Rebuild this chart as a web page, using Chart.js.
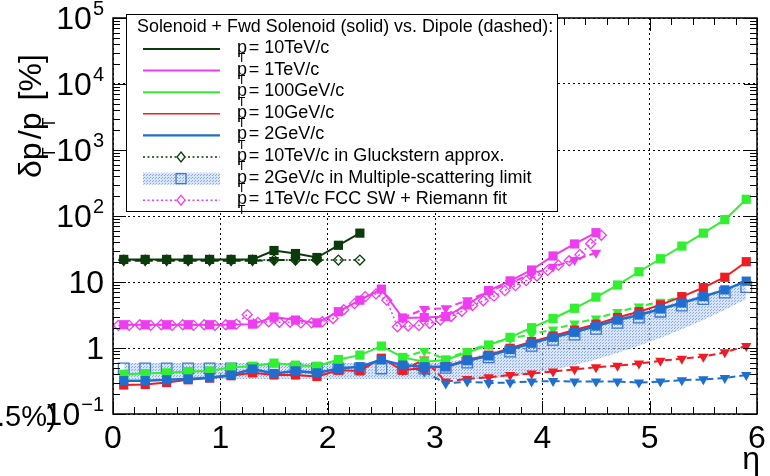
<!DOCTYPE html>
<html>
<head>
<title>pT resolution vs eta</title>
<script src="https://cdn.jsdelivr.net/npm/chart.js@4.4.1/dist/chart.umd.min.js"></script>
<style>
  body { margin: 0; background: #fff; }
  canvas { display: block; }
</style>
</head>
<body>
<canvas id="myCanvas" width="770" height="476"></canvas>
<script>
// eta bins (bin centres)
var eta = [0.1, 0.3, 0.5, 0.7, 0.9, 1.1, 1.3, 1.5, 1.7, 1.9, 2.1, 2.3, 2.5, 2.7, 2.9,
           3.1, 3.3, 3.5, 3.7, 3.9, 4.1, 4.3, 4.5, 4.7, 4.9, 5.1, 5.3, 5.5, 5.7, 5.9];

// solenoid + fwd solenoid (solid)
var pt10TeV  = [22, 22, 22, 22, 22, 22, 22, 30, 27, 23.5, 36, 55,
                null, null, null, null, null, null, null, null, null, null, null, null, null, null, null, null, null, null];
var pt1TeV   = [2.25, 2.25, 2.25, 2.25, 2.25, 2.25, 2.3, 2.95, 2.65, 2.4, 3.55, 5.3, 7.8, 2.85, 2.9,
                3.0, 4.5, 7.4, 10.4, 15.2, 24.8, 37.7, 55.8, null, null, null, null, null, null, null];
var pt100GeV = [0.40, 0.41, 0.42, 0.44, 0.45, 0.51, 0.53, 0.59, 0.55, 0.53, 0.67, 0.78, 1.07, 0.72, 0.62,
                0.66, 0.85, 1.11, 1.45, 2.03, 2.8, 4.0, 5.9, 9.0, 14.3, 22.5, 35, 55, 88, 179];
var pt10GeV  = [0.275, 0.28, 0.30, 0.33, 0.35, 0.38, 0.42, 0.39, 0.39, 0.37, 0.46, 0.45, 0.70, 0.46, 0.50,
                0.52, 0.66, 0.78, 0.99, 1.25, 1.52, 1.87, 2.3, 2.9, 3.55, 4.5, 6.0, 8.2, 11.8, 20.3];
var pt2GeV   = [0.32, 0.32, 0.33, 0.34, 0.355, 0.39, 0.48, 0.41, 0.45, 0.42, 0.49, 0.52, 0.66, 0.55, 0.52,
                0.52, 0.64, 0.76, 0.95, 1.18, 1.45, 1.73, 2.15, 2.65, 3.16, 3.9, 4.8, 6.0, 7.6, 10.3];

// dipole (dashed)
var pt10TeVDip  = [21, 21, 21, 21, 21, 21, 21, 21.5, 21.5, 21.5,
                   null, null, null, null, null, null, null, null, null, null, null, null, null, null, null, null, null, null, null, null];
var pt1TeVDip   = [null, null, null, null, null, null, null, null, null, null, null, null, null, 2.85, 3.9,
                   4.0, 5.3, 7.1, 9.7, 13.2, 17, 21.5, 27.8, null, null, null, null, null, null, null];
var pt100GeVDip = [null, null, null, null, null, null, null, null, null, null, null, null, null, 0.72, 0.9,
                   0.68, 0.9, 1.15, 1.38, 1.62, 1.9, 2.35, 2.8, 3.5, 4.25, 5.0, 6.0, null, null, null];
var pt10GeVDip  = [null, null, null, null, null, null, null, null, null, null, null, null, null, 0.46, 0.67,
                   0.31, 0.34, 0.36, 0.39, 0.41, 0.44, 0.475, 0.51, 0.54, 0.58, 0.64, 0.69, 0.74, 0.86, 1.07];
var pt2GeVDip   = [null, null, null, null, null, null, null, null, null, null, null, null, null, 0.55, 0.44,
                   0.29, 0.31, 0.295, 0.30, 0.31, 0.315, 0.31, 0.31, 0.31, 0.30, 0.31, 0.325, 0.335, 0.35, 0.39];

// 10 TeV/c in Gluckstern approx.
var gluck10TeV = [21.5, 21.5, 21.5, 21.5, 21.5, 21.5, 21.5, 21.5, 21.5, 21.5, 21.5, 21.5,
                  null, null, null, null, null, null, null, null, null, null, null, null, null, null, null, null, null, null];

// 2 GeV/c multiple-scattering limit (band + centre)
var msCentre = [0.49, 0.49, 0.49, 0.49, 0.49, 0.49, 0.49, 0.49, 0.49, 0.49, 0.49, 0.49, 0.49, 0.49, 0.49,
                0.50, 0.60, 0.72, 0.88, 1.08, 1.33, 1.6, 1.95, 2.4, 2.9, 3.55, 4.4, 5.5, 6.9, 8.4];
var msUpper  = [0.59, 0.59, 0.59, 0.59, 0.59, 0.59, 0.59, 0.59, 0.59, 0.59, 0.59, 0.59, 0.59, 0.59, 0.59,
                0.60, 0.70, 0.84, 1.02, 1.25, 1.55, 1.88, 2.3, 2.8, 3.4, 4.2, 5.2, 6.4, 8.0, 9.8];
var msLower  = [0.34, 0.34, 0.34, 0.34, 0.34, 0.34, 0.34, 0.34, 0.34, 0.34, 0.34, 0.34, 0.34, 0.34, 0.34,
                0.34, 0.34, 0.34, 0.36, 0.41, 0.47, 0.55, 0.67, 0.84, 1.08, 1.42, 1.92, 2.65, 3.8, 5.5];

// 1 TeV/c FCC SW + Riemann fit (finer eta steps)
var etaFcc = [0.05, 0.15, 0.25, 0.35, 0.45, 0.55, 0.65, 0.75, 0.85, 0.95, 1.05, 1.15, 1.25, 1.35, 1.45,
              1.55, 1.65, 1.75, 1.85, 1.95, 2.05, 2.15, 2.25, 2.35, 2.45, 2.55, 2.65, 2.75, 2.85, 2.95,
              3.05, 3.15, 3.25, 3.35, 3.45, 3.55, 3.65, 3.75, 3.85, 3.95, 4.05, 4.15, 4.25, 4.35, 4.45, 4.55];
var fcc1TeV = [2.2, 2.2, 2.25, 2.2, 2.25, 2.2, 2.25, 2.2, 2.25, 2.2, 2.25, 2.3, 3.2, 2.45, 2.5,
               2.45, 2.45, 2.4, 2.4, 2.5, 2.8, 3.8, 4.7, 6.0, 6.6, 5.3, 2.1, 2.15, 2.2, 2.35,
               2.65, 3.0, 3.6, 4.4, 5.2, 6.1, 7.4, 8.8, 10.5, 12.3, 15, 18, 21, 26, 38, 51];

// axis ticks / labels
var xTicks = [0, 1, 2, 3, 4, 5, 6];
var xTickLabels = ['0', '1', '2', '3', '4', '5', '6'];
var yTicks = [0.1, 1, 10, 100, 1000, 10000, 100000];
var yTickBase = ['10', '1', '10', '10', '10', '10', '10'];
var yTickExp  = ['\u22121', '', '', '2', '3', '4', '5'];
var xTitle = '\u03b7';
var leftNote = '.5%)';

var legendHeader = 'Solenoid + Fwd Solenoid (solid) vs. Dipole (dashed):';
var legendTexts = ['= 10TeV/c', '= 1TeV/c', '= 100GeV/c', '= 10GeV/c', '= 2GeV/c',
                   '= 10TeV/c in Gluckstern approx.', '= 2GeV/c in Multiple-scattering limit',
                   '= 1TeV/c FCC SW + Riemann fit'];

var cDkGreen = '#0b3b0b', cMagenta = '#f03cf0', cGreen = '#30f030', cRed = '#f01c24', cBlue = '#1e6fd0';
var FONT = '"Liberation Sans", Arial, sans-serif';

function pts(xs, ys) {
  return xs.map(function(x, i) { return {x: x, y: ys[i]}; });
}

var ctx0 = document.getElementById('myCanvas').getContext('2d');
function bandPattern() {
  var c = document.createElement('canvas');
  c.width = 3; c.height = 3;
  var g = c.getContext('2d');
  g.fillStyle = 'rgba(185,208,240,0.55)';
  g.fillRect(0, 0, 3, 3);
  g.fillStyle = 'rgba(80,135,215,0.6)';
  g.fillRect(0, 0, 1, 1);
  g.fillRect(2, 1, 1, 1);
  return ctx0.createPattern(c, 'repeat');
}
var band = bandPattern();

function solid(data, color, w) {
  return {data: pts(eta, data), borderColor: color, backgroundColor: color, borderWidth: w,
          pointStyle: 'rect', pointRadius: 6.5, pointBorderWidth: 0, spanGaps: false};
}
function dipole(data, color) {
  return {data: pts(eta, data), borderColor: color, backgroundColor: color, borderWidth: 2,
          borderDash: [7, 4], pointStyle: 'triangle', rotation: 180, pointRadius: 6, pointBorderWidth: 0};
}

var datasets = [
  solid(pt2GeV, cBlue, 2.5),
  solid(pt10GeV, cRed, 2),
  solid(pt100GeV, cGreen, 2),
  solid(pt1TeV, cMagenta, 2),
  solid(pt10TeV, cDkGreen, 2),
  dipole(pt2GeVDip, cBlue),
  dipole(pt10GeVDip, cRed),
  dipole(pt100GeVDip, cGreen),
  dipole(pt1TeVDip, cMagenta),
  dipole(pt10TeVDip, cDkGreen),
  {data: pts(etaFcc, fcc1TeV), borderColor: cMagenta, backgroundColor: 'rgba(255,255,255,0)', borderWidth: 1.5,
   borderDash: [2, 2.5], pointStyle: 'rectRot', pointRadius: 5, pointBorderWidth: 1.3, pointBorderColor: cMagenta},
  {data: pts(eta, gluck10TeV), borderColor: cDkGreen, backgroundColor: 'rgba(255,255,255,0)', borderWidth: 1.5,
   borderDash: [2, 2.5], pointStyle: 'rectRot', pointRadius: 5, pointBorderWidth: 1.3, pointBorderColor: cDkGreen},
  {data: pts(eta, msCentre), showLine: false, borderColor: '#3a78d8', backgroundColor: 'rgba(255,255,255,0)',
   pointStyle: 'rect', pointRadius: 7.5, pointBorderWidth: 1.3},
  {data: pts(eta, msLower), borderWidth: 0, pointRadius: 0, fill: false},
  {data: pts(eta, msUpper), borderWidth: 0, pointRadius: 0, backgroundColor: band, fill: '-1'}
];

// text runs; a subscript "T" sits under the preceding letter (ROOT style)
function runs(ctx, x, y, parts, big, small, sub) {
  var lastStart = x;
  parts.forEach(function(p) {
    if (p.sub) {
      ctx.font = small + 'px ' + FONT;
      ctx.fillText(p.t, lastStart + big * 0.06, y + sub);
      x += big * 0.1;
    } else {
      ctx.font = big + 'px ' + FONT;
      ctx.fillText(p.t, x, y);
      var w = ctx.measureText(p.t).width;
      lastStart = x + w - ctx.measureText(p.t.slice(-1)).width;
      x += w;
    }
  });
}

var legendStyles = [
  {c: cDkGreen, dash: [], w: 2.2},
  {c: cMagenta, dash: [], w: 2},
  {c: cGreen, dash: [], w: 2},
  {c: cRed, dash: [], w: 1.5},
  {c: cBlue, dash: [], w: 2.2},
  {c: cDkGreen, dash: [2, 2.5], w: 1.5, mark: 'diamond'},
  {c: '#3a78d8', dash: [], w: 0, mark: 'band'},
  {c: cMagenta, dash: [2, 2.5], w: 1.5, mark: 'diamond'}
];

var rootFrame = {
  id: 'rootFrame',
  afterDraw: function(chart) {
    var ctx = chart.ctx, a = chart.chartArea, xs = chart.scales.x, ys = chart.scales.y;
    ctx.save();
    ctx.strokeStyle = '#000';
    ctx.fillStyle = '#000';
    ctx.setLineDash([]);

    // tick marks on all four sides
    ctx.lineWidth = 1;
    ctx.beginPath();
    for (var v = 0; v <= 6.001; v += 0.2) {
      var px = Math.round(xs.getPixelForValue(v)) + 0.5;
      var major = Math.abs(v - Math.round(v)) < 1e-6;
      var len = major ? 13 : 7;
      ctx.moveTo(px, a.bottom); ctx.lineTo(px, a.bottom - len);
      ctx.moveTo(px, a.top); ctx.lineTo(px, a.top + len);
    }
    for (var d = -1; d <= 4; d++) {
      for (var k = 1; k <= 10; k++) {
        var val = k * Math.pow(10, d);
        var py = Math.round(ys.getPixelForValue(val)) + 0.5;
        var ln = (k === 1 || k === 10) ? 13 : 7;
        ctx.moveTo(a.left, py); ctx.lineTo(a.left + ln, py);
        ctx.moveTo(a.right, py); ctx.lineTo(a.right - ln, py);
      }
    }
    ctx.stroke();

    // frame
    ctx.lineWidth = 1.5;
    ctx.strokeRect(a.left, a.top, a.right - a.left, a.bottom - a.top);

    // x tick labels
    ctx.textAlign = 'center';
    ctx.textBaseline = 'alphabetic';
    ctx.font = '32px ' + FONT;
    xTicks.forEach(function(t, i) {
      ctx.fillText(xTickLabels[i], xs.getPixelForValue(t), 448);
    });
    ctx.textAlign = 'right';
    ctx.fillText(xTitle, 760, 469);

    // y tick labels with superscripts
    ctx.textBaseline = 'middle';
    yTicks.forEach(function(t, i) {
      var py = ys.getPixelForValue(t) + 2;
      var right = 104;
      ctx.textAlign = 'right';
      if (yTickExp[i]) {
        ctx.font = '20px ' + FONT;
        var ew = ctx.measureText(yTickExp[i]).width;
        ctx.fillText(yTickExp[i], right, py - 11);
        right -= ew + 1;
      }
      ctx.font = '32px ' + FONT;
      ctx.fillText(yTickBase[i], right, py);
    });
    ctx.textAlign = 'left';
    ctx.font = '29px ' + FONT;
    ctx.fillText(leftNote, -3, ys.getPixelForValue(0.1) + 4);

    // y axis title (rotated)
    ctx.save();
    ctx.translate(41, 178);
    ctx.rotate(-Math.PI / 2);
    ctx.textAlign = 'left';
    ctx.textBaseline = 'alphabetic';
    runs(ctx, 0, 0, [{t: '\u03b4p'}, {t: 'T', sub: true}, {t: '/p'}, {t: 'T', sub: true}, {t: ' [%]'}], 32, 18, 14);
    ctx.restore();

    // legend
    var lx = 126, ly = 14, lw = 431, lh = 197;
    ctx.fillStyle = '#fff';
    ctx.fillRect(lx, ly, lw, lh);
    ctx.lineWidth = 1;
    ctx.strokeRect(lx + 0.5, ly + 0.5, lw, lh);
    ctx.fillStyle = '#000';
    ctx.textAlign = 'left';
    ctx.textBaseline = 'middle';
    ctx.font = '17.9px ' + FONT;
    ctx.fillText(legendHeader, 137, 27);
    legendStyles.forEach(function(s, i) {
      var ry = 49 + i * 21.6;
      if (s.mark === 'band') {
        ctx.fillStyle = band;
        ctx.fillRect(143, ry - 6, 77, 12);
        ctx.strokeStyle = s.c;
        ctx.lineWidth = 1.3;
        ctx.strokeRect(176, ry - 5, 10, 10);
      } else {
        ctx.strokeStyle = s.c;
        ctx.lineWidth = s.w;
        ctx.setLineDash(s.dash);
        ctx.beginPath();
        ctx.moveTo(143, ry); ctx.lineTo(220, ry);
        ctx.stroke();
        ctx.setLineDash([]);
        if (s.mark === 'diamond') {
          ctx.fillStyle = '#fff';
          ctx.lineWidth = 1.3;
          ctx.beginPath();
          ctx.moveTo(181, ry - 5); ctx.lineTo(185, ry); ctx.lineTo(181, ry + 5); ctx.lineTo(177, ry);
          ctx.closePath();
          ctx.fill();
          ctx.stroke();
        }
      }
      ctx.fillStyle = '#000';
      ctx.textBaseline = 'middle';
      runs(ctx, 237, ry - 1, [{t: 'p'}, {t: 'T', sub: true}, {t: legendTexts[i]}], 18, 12, 11);
    });
    ctx.restore();
  }
};

new Chart(document.getElementById('myCanvas'), {
  type: 'line',
  data: {datasets: datasets},
  options: {
    responsive: false,
    animation: false,
    devicePixelRatio: 1,
    layout: {padding: {left: 113, right: 13, top: 18, bottom: 62}},
    plugins: {legend: {display: false}, tooltip: {enabled: false}},
    elements: {line: {tension: 0}},
    scales: {
      x: {
        type: 'linear', min: 0, max: 6,
        ticks: {display: false, stepSize: 1},
        grid: {color: '#000', lineWidth: 1, drawTicks: false},
        border: {display: false, dash: [2, 3]}
      },
      y: {
        type: 'logarithmic', min: 0.1, max: 100000,
        afterBuildTicks: function(s) { s.ticks = yTicks.map(function(v) { return {value: v}; }); },
        ticks: {display: false},
        grid: {color: '#000', lineWidth: 1, drawTicks: false},
        border: {display: false, dash: [2, 3]}
      }
    }
  },
  plugins: [rootFrame]
});
</script>
</body>
</html>
